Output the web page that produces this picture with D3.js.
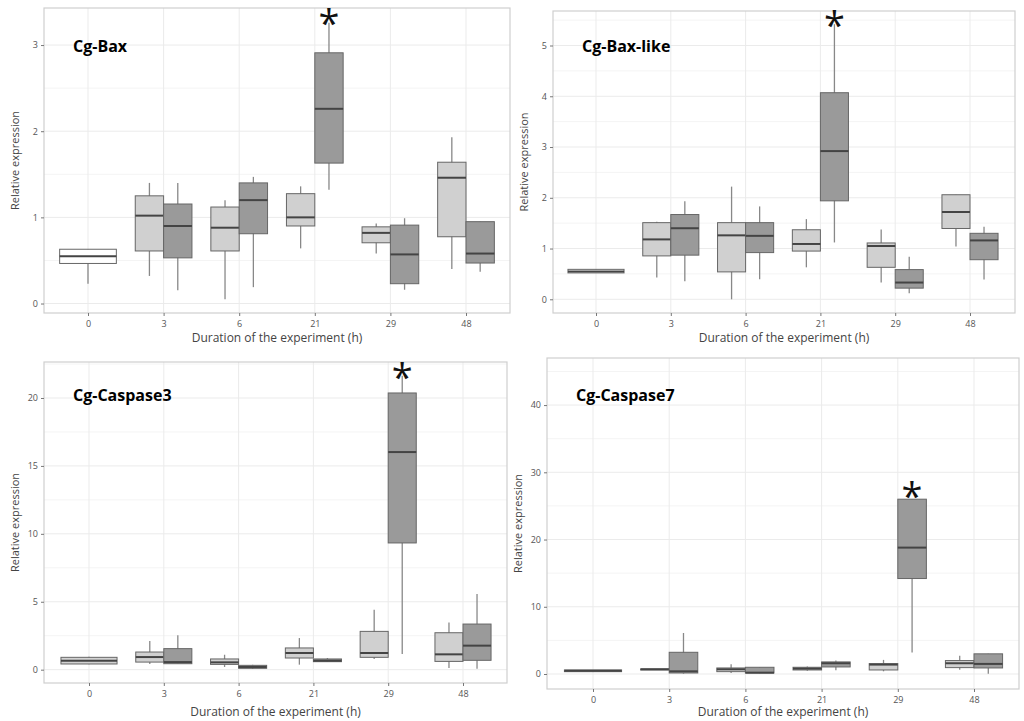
<!DOCTYPE html>
<html><head><meta charset="utf-8">
<script src="https://cdn.jsdelivr.net/npm/d3@7"></script>
<style>body{margin:0;background:#fff}svg text{font-family:"Open Sans",sans-serif}</style>
</head><body><svg id="chart" width="1024" height="721"></svg>
<script>
// time points (h)
var times = ['0', '3', '6', '21', '29', '48']

// box stats per time: [whiskerLow, q1, median, q3, whiskerHigh]; null = no box
var baxCtrl = [[0.23,0.465,0.55,0.63,0.63],[0.32,0.61,1.02,1.25,1.40],[0.05,0.61,0.88,1.12,1.20],[0.64,0.90,1.00,1.275,1.36],[0.58,0.705,0.82,0.89,0.93],[0.40,0.775,1.46,1.64,1.93]]
var baxExp  = [null,[0.155,0.53,0.90,1.155,1.40],[0.19,0.81,1.20,1.40,1.47],[1.32,1.63,2.26,2.91,3.26],[0.16,0.23,0.57,0.91,0.99],[0.37,0.47,0.58,0.95,0.95]]
var baxLikeCtrl = [[0.52,0.52,0.55,0.59,0.59],[0.43,0.855,1.18,1.51,1.53],[0,0.54,1.26,1.51,2.22],[0.63,0.95,1.09,1.37,1.58],[0.33,0.63,1.05,1.11,1.375],[1.04,1.395,1.72,2.06,2.06]]
var baxLikeExp  = [null,[0.355,0.87,1.40,1.67,1.93],[0.395,0.92,1.25,1.51,1.83],[1.12,1.94,2.92,4.07,5.42],[0.12,0.22,0.33,0.585,0.84],[0.39,0.78,1.16,1.30,1.43]]
var casp3Ctrl = [[0.4,0.42,0.66,0.91,0.95],[0.42,0.56,0.93,1.30,2.11],[0.2,0.39,0.54,0.79,1.10],[0.37,0.86,1.23,1.6,2.33],[0.79,0.91,1.23,2.82,4.42],[0.12,0.61,1.13,2.72,3.48]]
var casp3Exp  = [null,[0.44,0.44,0.56,1.55,2.53],[0.05,0.1,0.2,0.32,0.36],[0.57,0.59,0.66,0.79,0.86],[1.15,9.33,16.02,20.37,21.64],[0.07,0.69,1.77,3.36,5.57]]
var casp7Ctrl = [[0.35,0.35,0.5,0.6,0.6],[0.65,0.65,0.7,0.75,0.75],[0.15,0.35,0.7,0.9,1.44],[0.5,0.6,0.8,1.0,1.1],[0.4,0.6,1.4,1.55,2.1],[0.65,0.95,1.6,2.0,2.7]]
var casp7Exp  = [null,[0.05,0.15,0.4,3.23,6.1],[0.1,0.15,0.2,1.0,1.0],[0.55,1.05,1.6,1.8,2.0],[3.2,14.2,18.8,26.0,26.0],[0.05,0.9,1.5,3.0,3.0]]

// significance marks: [timeIndex, value]
var baxStar = [[3, 3.33]], baxLikeStar = [[3, 5.52]], casp3Star = [[4, 22.0]], casp7Star = [[4, 27.4]]

var panels = [
  {name:'Cg-Bax', ctrl:baxCtrl, exp:baxExp, star:baxStar, ticks:[0,1,2,3], yDom:[-0.11,3.43],
   x0:44, x1:510, y0:8, y1:313, c0:88, c1:466, ty:52, xt:342},
  {name:'Cg-Bax-like', ctrl:baxLikeCtrl, exp:baxLikeExp, star:baxLikeStar, ticks:[0,1,2,3,4,5], yDom:[-0.27,5.68],
   x0:553, x1:1015, y0:11, y1:313, c0:596, c1:970, ty:52, xt:342},
  {name:'Cg-Caspase3', ctrl:casp3Ctrl, exp:casp3Exp, star:casp3Star, ticks:[0,5,10,15,20], yDom:[-0.98,22.65],
   x0:44, x1:507, y0:362, y1:683, c0:89, c1:463, ty:401, xt:716},
  {name:'Cg-Caspase7', ctrl:casp7Ctrl, exp:casp7Exp, star:casp7Star, ticks:[0,10,20,30,40], yDom:[-2.23,47],
   x0:547, x1:1019, y0:358, y1:689, c0:593, c1:974, ty:401, xt:716}
]

var svg = d3.select('#chart')

panels.forEach(function (p, pi) {
  var step = (p.c1 - p.c0) / (times.length - 1)
  var x = d3.scalePoint().domain(times).range([p.c0, p.c1])
  var y = d3.scaleLinear().domain(p.yDom).range([p.y1, p.y0])
  var g = svg.append('g')
  var bw = step * 0.75

  // grid
  var minor = d3.range(p.ticks[0] + (p.ticks[1]-p.ticks[0])/2, p.yDom[1], p.ticks[1]-p.ticks[0])
  g.selectAll('.gm').data(minor).enter().append('line')
    .attr('x1', p.x0).attr('x2', p.x1).attr('y1', y).attr('y2', y)
    .attr('stroke', '#f4f4f4')
  g.selectAll('.gy').data(p.ticks).enter().append('line')
    .attr('x1', p.x0).attr('x2', p.x1).attr('y1', y).attr('y2', y)
    .attr('stroke', '#ebebeb')
  g.selectAll('.gx').data(times).enter().append('line')
    .attr('x1', x).attr('x2', x).attr('y1', p.y0).attr('y2', p.y1)
    .attr('stroke', '#ebebeb')
  g.append('rect').attr('x', p.x0).attr('y', p.y0)
    .attr('width', p.x1 - p.x0).attr('height', p.y1 - p.y0)
    .attr('fill', 'none').attr('stroke', '#cfcfcf').attr('stroke-width', 1.2)

  // axes
  var ya = g.append('g').attr('transform', 'translate(' + p.x0 + ',0)')
    .call(d3.axisLeft(y).tickValues(p.ticks).tickFormat(d3.format('d')).tickSize(3).tickPadding(3))
  var xa = g.append('g').attr('transform', 'translate(0,' + p.y1 + ')')
    .call(d3.axisBottom(x).tickSize(3).tickPadding(5))
  ;[ya, xa].forEach(function (a) {
    a.select('.domain').remove()
    a.selectAll('line').attr('stroke', '#777')
    a.selectAll('text').attr('fill', '#555').style('font-size', '9px')
  })

  // boxes
  var items = []
  times.forEach(function (t, i) {
    if (p.exp[i] === null) items.push({t:t, s:p.ctrl[i], off:0, w:bw, fill: pi < 2 ? '#fff' : '#d2d2d2'})
    else {
      items.push({t:t, s:p.ctrl[i], off:-bw/4, w:bw/2, fill:'#d0d0d0'})
      items.push({t:t, s:p.exp[i], off:bw/4, w:bw/2, fill:'#9a9a9a'})
    }
  })
  var b = g.selectAll('.box').data(items).enter().append('g')
    .attr('transform', function (d) { return 'translate(' + (x(d.t) + d.off) + ',0)' })
  b.append('line').attr('x1', 0).attr('x2', 0)
    .attr('y1', function (d) { return y(d.s[0]) }).attr('y2', function (d) { return y(d.s[4]) })
    .attr('stroke', '#888').attr('stroke-width', 1.3)
  b.append('rect').attr('x', function (d) { return -d.w/2 })
    .attr('y', function (d) { return y(d.s[3]) }).attr('width', function (d) { return d.w })
    .attr('height', function (d) { return Math.max(1, y(d.s[1]) - y(d.s[3])) })
    .attr('fill', function (d) { return d.fill }).attr('stroke', '#666').attr('stroke-width', 1)
  b.append('line').attr('x1', function (d) { return -d.w/2 }).attr('x2', function (d) { return d.w/2 })
    .attr('y1', function (d) { return y(d.s[2]) }).attr('y2', function (d) { return y(d.s[2]) })
    .attr('stroke', '#444').attr('stroke-width', 2)

  // stars
  g.selectAll('.star').data(p.star).enter().append('text')
    .attr('x', function (d) { return x(times[d[0]]) + bw/4 })
    .attr('y', function (d) { return y(d[1]) + 20 })
    .attr('text-anchor', 'middle').style('font-size', '38px').attr('fill', '#111').text('*')

  // labels
  g.append('text').attr('x', p.x0 + 29).attr('y', p.ty)
    .style('font-size', '16px').style('font-weight', 'bold').attr('fill', '#000').text(p.name)
  g.append('text').attr('x', (p.x0 + p.x1)/2).attr('y', p.xt).attr('text-anchor', 'middle')
    .style('font-size', '12px').attr('fill', '#444').text('Duration of the experiment (h)')
  g.append('text').attr('transform', 'translate(' + (p.x0 - 25) + ',' + ((p.y0 + p.y1)/2) + ') rotate(-90)')
    .attr('text-anchor', 'middle').style('font-size', '11px').attr('fill', '#444').text('Relative expression')
})
</script></body></html>
